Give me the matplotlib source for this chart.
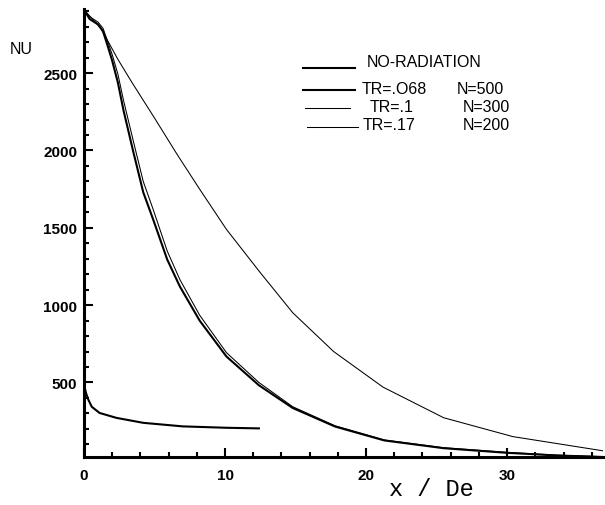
import matplotlib.pyplot as plt
from matplotlib.lines import Line2D
from matplotlib.ticker import MultipleLocator
import numpy as np

# data
x_norad = [0, 0.4, 1.0, 1.35, 1.7, 2.0, 2.4, 2.8, 3.5, 4.2, 4.9, 5.9, 6.8, 8.2,
           10.1, 12.4, 14.8, 17.8, 21.3, 25.5, 30.0, 33.5, 36.8]
nu_norad = [2910, 2850, 2815, 2770, 2670, 2580, 2440, 2260, 1990, 1730, 1555, 1295,
            1120, 900, 668, 482, 335, 215, 125, 75, 45, 28, 18]

x_tr10 = x_norad
nu_tr10 = [2910, 2865, 2830, 2790, 2700, 2620, 2495, 2325, 2060, 1800, 1620, 1350,
           1165, 935, 693, 500, 343, 220, 128, 78, 48, 30, 20]

x_tr17 = [0, 0.6, 1.2, 2.4, 3.4, 5.0, 6.6, 8.2, 10.1, 12.5, 14.8, 17.7,
          21.2, 25.5, 30.4, 36.8]
nu_tr17 = [2910, 2850, 2790, 2590, 2440, 2210, 1975, 1750, 1490, 1210, 951,
           700, 470, 272, 150, 58]

x_tr068 = [0, 0.15, 0.3, 0.55, 1.1, 2.3, 4.2, 7.0, 10.1, 12.4]
nu_tr068 = [485, 430, 390, 343, 303, 271, 239, 216, 207, 203]

W, H = 605, 506
fig = plt.figure(figsize=(W / 100, H / 100), dpi=100)
ax = fig.add_axes([84 / W, 1 - 458 / H, (603 - 84) / W, (458 - 10) / H])

thick = 1.5
thin = 0.75
ax.plot(x_norad, nu_norad, color='black', lw=thick)
ax.plot(x_tr10, nu_tr10, color='black', lw=thin)
ax.plot(x_tr17, nu_tr17, color='black', lw=thin)
ax.plot(x_tr068, nu_tr068, color='black', lw=thick)

ax.set_xlim(0, 36.8)
ax.set_ylim(18, 2915)

for s in ['top', 'right']:
    ax.spines[s].set_visible(False)
for s in ['left', 'bottom']:
    ax.spines[s].set_linewidth(2.2)

ax.set_xticks([0, 10, 20, 30])
ax.set_yticks([500, 1000, 1500, 2000, 2500])
ax.xaxis.set_minor_locator(MultipleLocator(2))
ax.yaxis.set_minor_locator(MultipleLocator(100))
ax.tick_params(which='both', direction='in', width=1.5, color='black')
ax.tick_params(which='major', length=6.5)
ax.tick_params(which='minor', length=3.5)
ax.tick_params(axis='x', which='major', pad=8)
ax.tick_params(axis='y', which='major', pad=5)
for lab in ax.get_xticklabels() + ax.get_yticklabels():
    lab.set_fontfamily('Liberation Sans')
    lab.set_fontweight('bold')
    lab.set_fontsize(11)

# axis titles
fig.text(21 / W, 1 - 50 / H, 'NU', fontsize=11.5, family='Liberation Sans',
         ha='center', va='center')
fig.text(431 / W, 1 - 490 / H, 'x / De', fontsize=17, family='Liberation Mono',
         ha='center', va='center')

# hand-placed legend
legend_rows = [
    (303, 355, 69, thick, 'NO-RADIATION', 367, 63, None, None),
    (303, 355, 91, thick, 'TR=.O68', 362, 89, 'N=500', 457),
    (305, 350, 109, thin, 'TR=.1', 370, 107, 'N=300', 463),
    (307, 358, 128, thin, 'TR=.17', 363, 125, 'N=200', 463),
]
for x0, x1, ly, lw, txt, tx, ty, ntxt, nx in legend_rows:
    fig.add_artist(Line2D([x0 / W, x1 / W], [1 - ly / H, 1 - ly / H],
                          color='black', lw=lw, transform=fig.transFigure))
    fig.text(tx / W, 1 - ty / H, txt, fontsize=11.5, family='Liberation Sans',
             ha='left', va='center')
    if ntxt:
        fig.text(nx / W, 1 - ty / H, ntxt, fontsize=11.5, family='Liberation Sans',
                 ha='left', va='center')

fig.savefig('out.png', dpi=100, facecolor='white')
